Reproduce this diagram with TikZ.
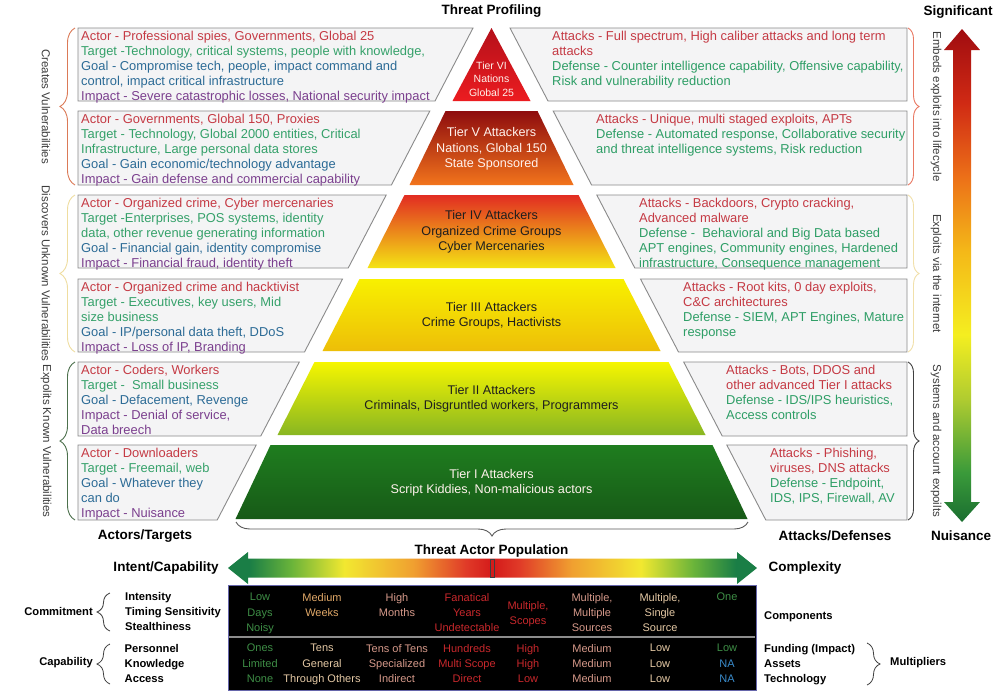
\documentclass[tikz,border=0pt]{standalone}
\usepackage{fontspec}
\setmainfont{Liberation Sans}
\usetikzlibrary{decorations.pathreplacing}

% text colours
\definecolor{boxline}{HTML}{8A8A8A}
\definecolor{boxfill}{HTML}{F4F4F5}
\definecolor{actc}{HTML}{C53A44}
\definecolor{tgtc}{HTML}{35A16A}
\definecolor{goalc}{HTML}{2C6B96}
\definecolor{impc}{HTML}{7B3F8E}
\definecolor{defc}{HTML}{2E9E66}
\definecolor{sidegray}{HTML}{3C3C3C}
\definecolor{tierlight}{HTML}{FFF2EC}
\definecolor{tierdark}{HTML}{1E1E1E}
% tier fills
\definecolor{t6top}{HTML}{B4101A}\definecolor{t6bot}{HTML}{EC1C20}
\definecolor{t5top}{HTML}{8E0C0E}\definecolor{t5mid}{HTML}{D63C1A}\definecolor{t5bot}{HTML}{F2741C}
\definecolor{t4top}{HTML}{E22C22}\definecolor{t4mid}{HTML}{F29020}\definecolor{t4bot}{HTML}{F4E414}
\definecolor{t3top}{HTML}{F8F000}\definecolor{t3bot}{HTML}{EDBE08}
\definecolor{t2top}{HTML}{F6F600}\definecolor{t2bot}{HTML}{88B622}
\definecolor{t1top}{HTML}{1F7D1F}\definecolor{t1bot}{HTML}{175A17}
% scale arrows
\definecolor{adg}{HTML}{1A7E46}
\definecolor{ag}{HTML}{6AB43A}
\definecolor{ay}{HTML}{F2E830}
\definecolor{ao}{HTML}{F0A030}
\definecolor{ar}{HTML}{E03A28}
\definecolor{ard}{HTML}{D41A1A}
\definecolor{vdg}{HTML}{1A6E30}
\definecolor{vg}{HTML}{3A9A3A}
\definecolor{vyg}{HTML}{B0CC30}
\definecolor{vy}{HTML}{F4EE20}
\definecolor{vyo}{HTML}{F4B818}
\definecolor{vo}{HTML}{EC7018}
\definecolor{vr}{HTML}{D02A14}
\definecolor{vdr}{HTML}{A00C10}
% table colours
\definecolor{cgrn}{HTML}{3E8E46}
\definecolor{ctan}{HTML}{E0A868}
\definecolor{cpale}{HTML}{E4C8A4}
\definecolor{cpink}{HTML}{D6998A}
\definecolor{cred}{HTML}{C8282C}
\definecolor{cblue}{HTML}{3A8CCC}

\pgfdeclarehorizontalshading{popbar}{100bp}{color(0bp)=(adg); color(25bp)=(adg); color(27bp)=(adg); color(31bp)=(ag); color(36bp)=(ay); color(42.5bp)=(ao); color(47.5bp)=(ar); color(50bp)=(ard); color(52.5bp)=(ar); color(57.5bp)=(ao); color(64bp)=(ay); color(69bp)=(ag); color(73bp)=(adg); color(75bp)=(adg); color(100bp)=(adg)}
\pgfdeclareverticalshading{levelbar}{100bp}{color(0bp)=(vdg); color(25bp)=(vdg); color(30bp)=(vg); color(37.5bp)=(vyg); color(44bp)=(vy); color(52.5bp)=(vyo); color(60bp)=(vo); color(67.5bp)=(vr); color(75bp)=(vdr); color(100bp)=(vdr)}

\newcommand{\cAct}[1]{\textcolor{actc}{#1}}
\newcommand{\cTgt}[1]{\textcolor{tgtc}{#1}}
\newcommand{\cGoal}[1]{\textcolor{goalc}{#1}}
\newcommand{\cImp}[1]{\textcolor{impc}{#1}}
\newcommand{\cAtt}[1]{\textcolor{actc}{#1}}
\newcommand{\cDef}[1]{\textcolor{defc}{#1}}

\begin{document}
\begin{tikzpicture}[x=1pt,y=-1pt,
  infobox/.style={draw=boxline, fill=boxfill, line width=0.9pt},
  boxtext/.style={font=\fontsize{12.9}{15.2}\selectfont, inner sep=0pt, align=left, anchor=north west},
  tiertext/.style={font=\fontsize{12.6}{15.3}\selectfont, align=center, inner sep=0pt},
  sidetext/.style={font=\fontsize{11.5}{14}\selectfont, text=sidegray, rotate=-90, inner sep=0pt},
  headlabel/.style={font=\bfseries\fontsize{13.5}{16}\selectfont, inner sep=0pt},
  rowlabel/.style={font=\bfseries\fontsize{11.2}{15.3}\selectfont, inner sep=0pt, align=left},
  cell/.style={font=\fontsize{11}{15.3}\selectfont, inner sep=0pt, align=center, anchor=north},
  bracemark/.style={decorate, decoration={brace, amplitude=#1}, line width=0.9pt}
]
\useasboundingbox (0,0) rectangle (1000,691);
\fill[white] (0,0) rectangle (1000,691);

% ---------- actor / target boxes (left) ----------
\draw[infobox] (78,28) -- (473,28) -- (435,101) -- (78,101) -- cycle;
\draw[infobox] (78,111) -- (429.8,111) -- (391.4,185) -- (78,185) -- cycle;
\draw[infobox] (78,195) -- (386.2,195) -- (348.2,268) -- (78,268) -- cycle;
\draw[infobox] (78,279) -- (342.5,279) -- (304.5,352) -- (78,352) -- cycle;
\draw[infobox] (78,362) -- (299.3,362) -- (260.8,436) -- (78,436) -- cycle;
\draw[infobox] (78,445) -- (256.2,445) -- (217.2,520) -- (78,520) -- cycle;

% ---------- attack / defense boxes (right) ----------
\draw[infobox] (510,28) -- (907,28) -- (907,101) -- (548,101) -- cycle;
\draw[infobox] (553.2,111) -- (907,111) -- (907,185) -- (591.6,185) -- cycle;
\draw[infobox] (596.8,195) -- (907,195) -- (907,268) -- (634.8,268) -- cycle;
\draw[infobox] (640.5,279) -- (907,279) -- (907,352) -- (678.5,352) -- cycle;
\draw[infobox] (683.7,362) -- (907,362) -- (907,436) -- (722.2,436) -- cycle;
\draw[infobox] (726.8,445) -- (907,445) -- (907,520) -- (765.8,520) -- cycle;

% ---------- pyramid tiers ----------
\shade[top color=t6top, bottom color=t6bot] (491.5,28) -- (530.5,101) -- (452.5,101) -- cycle;
\shade[top color=t5top, middle color=t5mid, bottom color=t5bot] (445.5,111) -- (537.5,111) -- (573.5,185) -- (409.5,185) -- cycle;
\shade[top color=t4top, middle color=t4mid, bottom color=t4bot] (404.5,195) -- (578.5,195) -- (615.5,268) -- (367.5,268) -- cycle;
\shade[top color=t3top, bottom color=t3bot] (359.5,279) -- (623.5,279) -- (660.5,351) -- (322.5,351) -- cycle;
\shade[top color=t2top, bottom color=t2bot] (314.5,362) -- (668.5,362) -- (705.5,435) -- (277.5,435) -- cycle;
\shade[top color=t1top, bottom color=t1bot] (270.5,445) -- (712.5,445) -- (747.5,519) -- (235.5,519) -- cycle;

\node[tiertext, text=tierlight, font=\fontsize{10.5}{13.5}\selectfont] (tier6) at (491.5,79) {Tier VI\\Nations\\Global 25};
\node[tiertext, text=tierlight] (tier5) at (491.5,149) {Tier V Attackers\\Nations, Global 150\\State Sponsored};
\node[tiertext, text=tierdark] (tier4) at (491.5,232) {Tier IV Attackers\\Organized Crime Groups\\Cyber Mercenaries};
\node[tiertext, text=tierdark] (tier3) at (491.5,315.5) {Tier III Attackers\\Crime Groups, Hactivists};
\node[tiertext, text=tierdark] (tier2) at (491.5,399) {Tier II Attackers\\Criminals, Disgruntled workers, Programmers};
\node[tiertext, text=tierlight] (tier1) at (491.5,483) {Tier I Attackers\\Script Kiddies, Non-malicious actors};

% ---------- left box texts ----------
\node[boxtext] (act6) at (81,30.5) {\cAct{Actor - Professional spies, Governments, Global 25}\\
  \cTgt{Target -Technology, critical systems, people with knowledge,}\\
  \cGoal{Goal - Compromise tech, people, impact command and}\\
  \cGoal{control, impact critical infrastructure}\\
  \cImp{Impact - Severe catastrophic losses, National security impact}};
\node[boxtext] (act5) at (81,113.5) {\cAct{Actor - Governments, Global 150, Proxies}\\
  \cTgt{Target - Technology, Global 2000 entities, Critical}\\
  \cTgt{Infrastructure, Large personal data stores}\\
  \cGoal{Goal - Gain economic/technology advantage}\\
  \cImp{Impact - Gain defense and commercial capability}};
\node[boxtext] (act4) at (81,197.5) {\cAct{Actor - Organized crime, Cyber mercenaries}\\
  \cTgt{Target -Enterprises, POS systems, identity}\\
  \cTgt{data, other revenue generating information}\\
  \cGoal{Goal - Financial gain, identity compromise}\\
  \cImp{Impact - Financial fraud, identity theft}};
\node[boxtext] (act3) at (81,281.5) {\cAct{Actor - Organized crime and hacktivist}\\
  \cTgt{Target - Executives, key users, Mid}\\
  \cTgt{size business}\\
  \cGoal{Goal - IP/personal data theft, DDoS}\\
  \cImp{Impact - Loss of IP, Branding}};
\node[boxtext] (act2) at (81,364.5) {\cAct{Actor - Coders, Workers}\\
  \cTgt{Target - \ Small business}\\
  \cGoal{Goal - Defacement, Revenge}\\
  \cImp{Impact - Denial of service,}\\
  \cImp{Data breech}};
\node[boxtext] (act1) at (81,447.5) {\cAct{Actor - Downloaders}\\
  \cTgt{Target - Freemail, web}\\
  \cGoal{Goal - Whatever they}\\
  \cGoal{can do}\\
  \cImp{Impact - Nuisance}};

% ---------- right box texts ----------
\node[boxtext] (att6) at (552,30.5) {\cAtt{Attacks - Full spectrum, High caliber attacks and long term}\\
  \cAtt{attacks}\\
  \cDef{Defense - Counter intelligence capability, Offensive capability,}\\
  \cDef{Risk and vulnerability reduction}};
\node[boxtext] (att5) at (596,113.5) {\cAtt{Attacks - Unique, multi staged exploits, APTs}\\
  \cDef{Defense - Automated response, Collaborative security}\\
  \cDef{and threat intelligence systems, Risk reduction}};
\node[boxtext] (att4) at (639,197.5) {\cAtt{Attacks - Backdoors, Crypto cracking,}\\
  \cAtt{Advanced malware}\\
  \cDef{Defense - \ Behavioral and Big Data based}\\
  \cDef{APT engines, Community engines, Hardened}\\
  \cDef{infrastructure, Consequence management}};
\node[boxtext] (att3) at (683,281.5) {\cAtt{Attacks - Root kits, 0 day exploits,}\\
  \cAtt{C\&C architectures}\\
  \cDef{Defense - SIEM, APT Engines, Mature}\\
  \cDef{response}};
\node[boxtext] (att2) at (726,364.5) {\cAtt{Attacks - Bots, DDOS and}\\
  \cAtt{other advanced Tier I attacks}\\
  \cDef{Defense - IDS/IPS heuristics,}\\
  \cDef{Access controls}};
\node[boxtext] (att1) at (770,447.5) {\cAtt{Attacks - Phishing,}\\
  \cAtt{viruses, DNS attacks}\\
  \cDef{Defense - Endpoint,}\\
  \cDef{IDS, IPS, Firewall, AV}};

% ---------- side braces and their captions ----------
\draw[bracemark=15pt, draw=brown!70!red!80] (75,185) -- (75,28);
\draw[bracemark=15pt, draw=yellow!40!brown!45] (75,352) -- (75,195);
\draw[bracemark=15pt, draw=green!20!black!70] (75,520) -- (75,362);
\node[sidetext] (creates) at (46,106.5) {Creates Vulnerabilities};
\node[sidetext] (discovers) at (46,273.5) {Discovers Unknown Vulnerabilities};
\node[sidetext] (exploitsknown) at (46,441) {Expolits Known Vulnerabilities};

\draw[bracemark=11pt, draw=red!50!brown!70] (908,28) -- (908,185);
\draw[bracemark=11pt, draw=yellow!40!brown!40] (908,195) -- (908,352);
\draw[bracemark=11pt, draw=black!75] (908,362) -- (908,520);
\node[sidetext] (embeds) at (936,106.5) {Embeds exploits into lifecycle};
\node[sidetext] (viainternet) at (936,273.5) {Exploits via the internet};
\node[sidetext] (systems) at (936,441) {Systems and account expoilts};

% ---------- significance scale ----------
\shade[shading=levelbar] (962,29) -- (980,50) -- (971,50) -- (971,502) -- (980,502) -- (962,522)
  -- (944,502) -- (953,502) -- (953,50) -- (944,50) -- cycle;
\node[headlabel] (significant) at (958,12) {Significant};
\node[headlabel] (nuisance) at (961,536) {Nuisance};

% ---------- headings ----------
\node[headlabel] (profiling) at (491.5,11) {Threat Profiling};
\node[headlabel] (actors) at (145,536) {Actors/Targets};
\node[headlabel] (attacks) at (835,536) {Attacks/Defenses};

% population brace and scale
\draw[bracemark=14pt, draw=black!65] (748,522) -- (236,522);
\node[headlabel] (population) at (491.5,551) {Threat Actor Population};
\shade[shading=popbar] (228,568) -- (248,552) -- (248,558.5) -- (737,558.5) -- (737,552) -- (757,568)
  -- (737,584) -- (737,577.5) -- (248,577.5) -- (248,584) -- cycle;
\draw[black!75, line width=0.7pt] (490,559) rectangle (494.5,577.5);
\node[headlabel] (intent) at (166,568) {Intent/Capability};
\node[headlabel] (complexity) at (805,568) {Complexity};

% ---------- commitment / capability table ----------
\fill[black] (228,585) rectangle (756,690);
\draw[black!55!blue!60!white, line width=0.8pt] (228,585) rectangle (756,690);
\draw[black!45, line width=1.5pt] (229,637) -- (755,637);

\node[rowlabel, anchor=north west] (commitrows) at (125,592) {Intensity\\Timing Sensitivity\\Stealthiness};
\node[rowlabel, anchor=north west] (caprows) at (124.5,644) {Personnel\\Knowledge\\Access};
\node[rowlabel, anchor=east] (commitment) at (93,611.5) {Commitment};
\node[rowlabel, anchor=east] (capability) at (93,663) {Capability};
\draw[bracemark=13pt, draw=black!75, line width=0.8pt] (110,631) -- (110,593);
\draw[bracemark=13pt, draw=black!75, line width=0.8pt] (110,684) -- (110,644);

\node[cell, text=cgrn] (u1) at (260,593) {Low\\Days\\Noisy};
\node[cell, text=ctan] (u2) at (322,593) {Medium\\Weeks};
\node[cell, text=cpink] (u3) at (397,593) {High\\Months};
\node[cell, text=cred] (u4) at (467,593) {Fanatical\\Years\\Undetectable};
\node[cell, text=cred] (u5) at (528,601) {Multiple,\\Scopes};
\node[cell, text=cpink] (u6) at (592,593) {Multiple,\\Multiple\\Sources};
\node[cell, text=cpale] (u7) at (660,593) {Multiple,\\Single\\Source};
\node[cell, text=cgrn] (u8) at (727,593) {One};

\node[cell, text=cgrn] (d1) at (260,644) {Ones\\Limited\\None};
\node[cell, text=cpale] (d2) at (322,644) {Tens\\General\\Through Others};
\node[cell, text=cpink] (d3) at (397,644) {Tens of Tens\\Specialized\\Indirect};
\node[cell, text=cred] (d4) at (467,644) {Hundreds\\Multi Scope\\Direct};
\node[cell, text=cred] (d5) at (528,644) {High\\High\\Low};
\node[cell, text=cpink] (d6) at (592,644) {Medium\\Medium\\Medium};
\node[cell, text=cpale] (d7) at (660,644) {Low\\Low\\Low};
\node[cell] (d8) at (727,644) {\textcolor{cgrn}{Low}\\\textcolor{cblue}{NA}\\\textcolor{cblue}{NA}};

\node[rowlabel, anchor=west] (components) at (764,617) {Components};
\node[rowlabel, anchor=north west] (multrows) at (764,644) {Funding (Impact)\\Assets\\Technology};
\draw[bracemark=13pt, draw=black!75, line width=0.8pt] (867,643) -- (867,685);
\node[rowlabel, anchor=west] (multipliers) at (890,663) {Multipliers};
\end{tikzpicture}
\end{document}
